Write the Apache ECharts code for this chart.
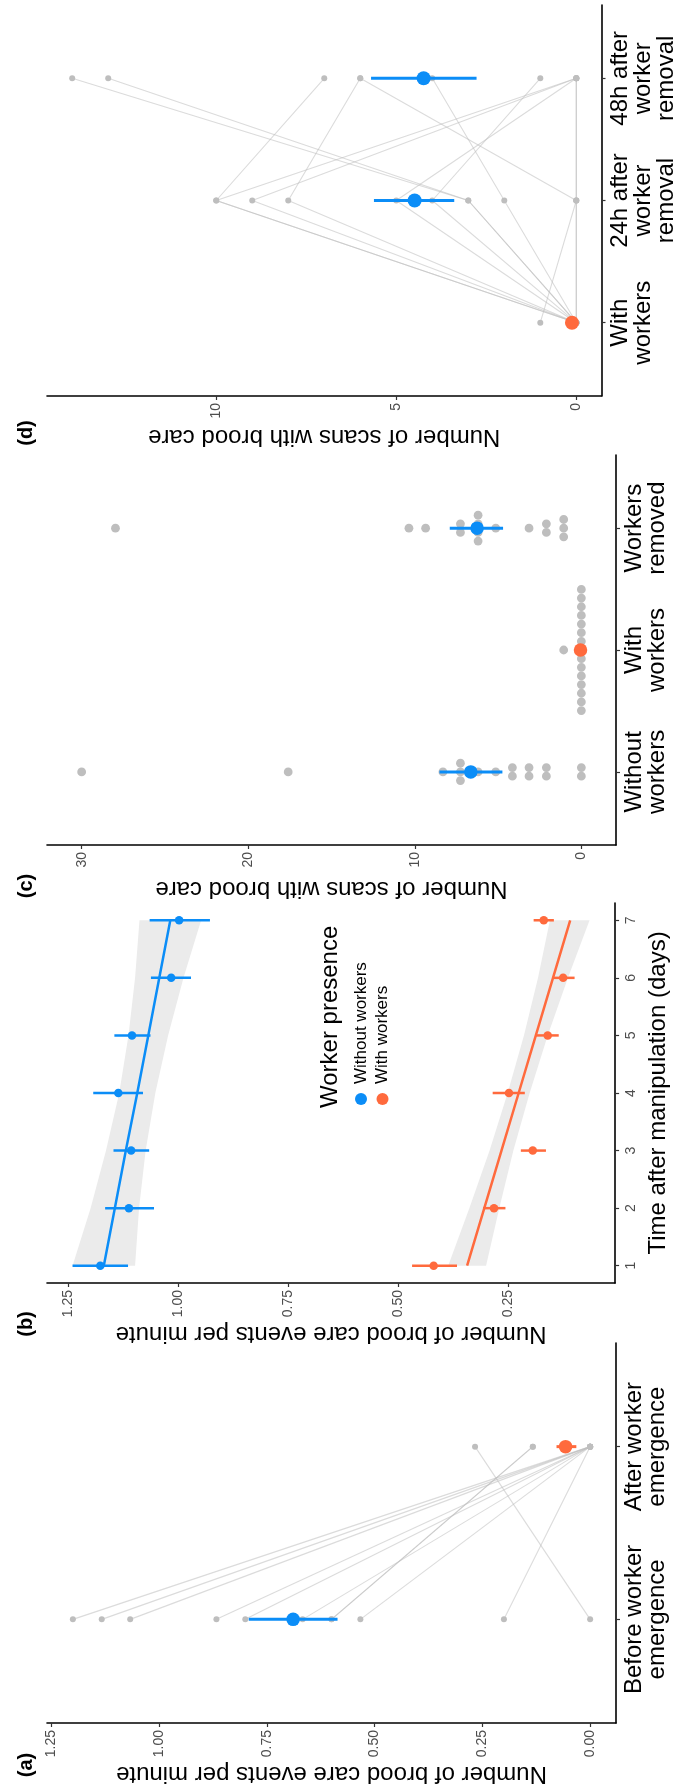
<!DOCTYPE html>
<html><head><meta charset="utf-8">
<script src="https://cdn.jsdelivr.net/npm/echarts@6/dist/echarts.min.js"></script>
<style>html,body{margin:0;padding:0;background:#fff}#c{width:678px;height:1788px}</style>
</head><body><div id="c"></div>
<script>
// ================= DATA =================
// Panel (a)
const aCategories = ['Before worker\nemergence', 'After worker\nemergence'];
const aBefore = [1.200, 1.133, 1.067, 0.867, 0.800, 0.667, 0.600, 0.600, 0.533, 0.200, 0.000];
const aAfter  = [0.000, 0.000, 0.000, 0.000, 0.000, 0.000, 0.133, 0.133, 0.000, 0.000, 0.267];
const aMean = [0.689, 0.057];
const aLow  = [0.586, 0.032];
const aHigh = [0.792, 0.078];
const aTicks = [0, 0.25, 0.5, 0.75, 1.0, 1.25];

// Panel (b)
const bDays = [1, 2, 3, 4, 5, 6, 7];
const bWithoutMean = [1.177, 1.112, 1.107, 1.136, 1.105, 1.016, 0.998];
const bWithoutLow  = [1.114, 1.055, 1.066, 1.080, 1.063, 0.971, 0.928];
const bWithoutHigh = [1.240, 1.166, 1.147, 1.193, 1.145, 1.062, 1.065];
const bWithoutFit     = [1.169, 1.144, 1.119, 1.093, 1.068, 1.043, 1.018];
const bWithoutFitLow  = [1.098, 1.089, 1.074, 1.052, 1.023, 0.988, 0.948];
const bWithoutFitHigh = [1.240, 1.199, 1.164, 1.134, 1.113, 1.098, 1.088];
const bWithMean = [0.420, 0.283, 0.195, 0.249, 0.161, 0.126, 0.170];
const bWithLow  = [0.367, 0.257, 0.165, 0.213, 0.136, 0.100, 0.147];
const bWithHigh = [0.469, 0.308, 0.222, 0.286, 0.188, 0.149, 0.193];
const bWithFit     = [0.344, 0.305, 0.266, 0.227, 0.188, 0.149, 0.110];
const bWithFitLow  = [0.301, 0.271, 0.239, 0.202, 0.161, 0.115, 0.066];
const bWithFitHigh = [0.387, 0.339, 0.293, 0.252, 0.215, 0.183, 0.156];
const bTicks = [0.25, 0.5, 0.75, 1.0, 1.25];
const bLegendTitle = 'Worker presence';
const bGroups = ['Without workers', 'With workers'];

// Panel (c)
const cCategories = ['Without\nworkers', 'With\nworkers', 'Workers\nremoved'];
const cWithout = [30.0, 17.6, 8.31, 7.26, 7.26, 7.26, 6.2, 5.14, 4.14, 4.14, 3.14, 3.14, 2.1, 2.1, 0, 0];
const cWith    = [1.06, 0, 0, 0, 0, 0, 0, 0, 0, 0, 0, 0, 0, 0, 0, 0];
const cRemoved = [27.97, 10.35, 9.35, 7.26, 7.26, 6.2, 6.2, 6.2, 6.2, 5.14, 3.14, 2.1, 2.1, 1.06, 1.06, 1.06];
const cMean = [6.64, 0.05, 6.26];
const cLow  = [4.74, null, 4.70];
const cHigh = [8.52, null, 7.90];
const cTicks = [0, 10, 20, 30];

// Panel (d)
const dCategories = ['With\nworkers', '24h after\nworker\nremoval', '48h after\nworker\nremoval'];
const dWith = [0, 0, 0, 0, 0, 0, 0, 0, 0, 1, 0, 0];
const d24h  = [10, 10, 9, 8, 5, 4, 3, 3, 2, 0, 0, 0];
const d48h  = [7, 0, 0, 6, 0, 1, 14, 13, 4, 6, 0, 0];
const dMean = [0.12, 4.49, 4.24];
const dLow  = [null, 3.39, 2.77];
const dHigh = [null, 5.62, 5.70];
const dTicks = [0, 5, 10];

const titleEvents = 'Number of brood care events per minute';
const titleScans = 'Number of scans with brood care';
const titleDays = 'Time after manipulation (days)';
const panelTags = ['(a)', '(b)', '(c)', '(d)'];

// ================= STYLE =================
const FONT = '"Liberation Sans", Arial, Helvetica, sans-serif';
const BLUE = '#0B8DF7', ORANGE = '#FF6A3D', GRAY = '#BEBEBE';
const LINE = 'rgba(190,190,190,0.55)', RIBBON = '#EBEBEB';

const chart = echarts.init(document.getElementById('c'), null, {renderer: 'canvas'});

function valueAxis(gi, min, max, ticks, digits, name, nameGap) {
  return {
    type: 'value', gridIndex: gi, min: min, max: max, inverse: true, position: 'bottom',
    splitLine: {show: false},
    axisLine: {show: true, onZero: false, lineStyle: {color: '#000', width: 1.6}},
    axisTick: {show: true, length: 4, customValues: ticks, lineStyle: {color: '#333', width: 1.2}},
    axisLabel: {show: true, rotate: 90, margin: 7, color: '#4d4d4d', fontSize: 14, fontFamily: FONT,
      customValues: ticks, formatter: v => Number(v).toFixed(digits)},
    name: name, nameLocation: 'middle', nameGap: nameGap, nameRotate: 180,
    nameTextStyle: {fontSize: 24, color: '#000', fontFamily: FONT}
  };
}
function catAxis(gi, min, max, labels, opts) {
  const pos = labels.map((_, i) => i + 1);
  const ax = {
    type: 'value', gridIndex: gi, min: min, max: max, position: 'right',
    splitLine: {show: false},
    axisLine: {show: true, onZero: false, lineStyle: {color: '#000', width: 1.6}},
    axisTick: {show: true, length: 4, customValues: pos, lineStyle: {color: '#333', width: 1.2}},
    axisLabel: {show: true, rotate: 90, margin: opts.margin, customValues: pos,
      formatter: v => labels[Math.round(v) - 1], fontSize: opts.fontSize, color: opts.color,
      lineHeight: opts.lineHeight, fontFamily: FONT}
  };
  if (opts.name) {
    ax.name = opts.name; ax.nameLocation = 'middle'; ax.nameGap = opts.nameGap;
    ax.nameTextStyle = {fontSize: 24, color: '#000', fontFamily: FONT};
  }
  return ax;
}
const catOpts = {margin: 7, fontSize: 24, color: '#000', lineHeight: 23};

const grids = [
  {left: 47, right: 62, top: 1343, height: 380},
  {left: 47, right: 62, top: 903, height: 380},
  {left: 47, right: 62, top: 455, height: 390},
  {left: 47, right: 62, top: 5, height: 391}
];
const xAxes = [
  valueAxis(0, -0.06, 1.26, aTicks, 2, titleEvents, 33),
  valueAxis(1, 0.008, 1.298, bTicks, 2, titleEvents, 33),
  valueAxis(2, -2.08, 32.08, cTicks, 0, titleScans, 32),
  valueAxis(3, -0.7, 14.7, dTicks, 0, titleScans, 29)
];
const dayLabels = bDays.map(String);
const yAxes = [
  catAxis(0, 0.4, 2.6, aCategories, catOpts),
  catAxis(1, 0.7, 7.3, dayLabels, {margin: 9, fontSize: 14, color: '#4d4d4d', lineHeight: 14, name: titleDays, nameGap: 29}),
  catAxis(2, 0.4, 3.6, cCategories, catOpts),
  catAxis(3, 0.4, 3.6, dCategories, catOpts)
];

const series = [];
function pathLine(gi, pts) {
  return {type: 'line', xAxisIndex: gi, yAxisIndex: gi, data: pts, symbol: 'none',
    lineStyle: {color: LINE, width: 1.1}, silent: true, z: 1};
}
function points(gi, data, size, color, z) {
  return {type: 'scatter', xAxisIndex: gi, yAxisIndex: gi, data: data, symbolSize: size,
    itemStyle: {color: color, opacity: 1}, silent: true, z: z};
}
function errorBars(gi, lows, highs, cats, colors, width) {
  const data = [];
  lows.forEach((l, i) => { if (l != null) data.push({value: [l, highs[i], cats[i]], c: colors[i]}); });
  return {type: 'custom', xAxisIndex: gi, yAxisIndex: gi, data: data, encode: {x: [0, 1], y: 2},
    silent: true, z: 3,
    renderItem: (p, api) => {
      const a = api.coord([api.value(0), api.value(2)]);
      const b = api.coord([api.value(1), api.value(2)]);
      return {type: 'line', shape: {x1: a[0], y1: a[1], x2: b[0], y2: b[1]},
        style: {stroke: data[p.dataIndex].c, lineWidth: width, lineCap: 'butt'}};
    }};
}
function means(gi, vals, cats, colors, size) {
  return {type: 'scatter', xAxisIndex: gi, yAxisIndex: gi, silent: true, z: 4, symbolSize: size,
    data: vals.map((v, i) => ({value: [v, cats[i]], itemStyle: {color: colors[i], opacity: 1}}))};
}

// ---- panel (a)
aBefore.forEach((v, i) => series.push(pathLine(0, [[v, 1], [aAfter[i], 2]])));
series.push(points(0, aBefore.map(v => [v, 1]).concat(aAfter.map(v => [v, 2])), 6, GRAY, 2));
series.push(errorBars(0, aLow, aHigh, [1, 2], [BLUE, ORANGE], 3));
series.push(means(0, aMean, [1, 2], [BLUE, ORANGE], 13.5));

// ---- panel (b)
function ribbon(gi, days, lo, hi) {
  return {type: 'custom', xAxisIndex: gi, yAxisIndex: gi, silent: true, z: 0,
    data: days.map((d, i) => [lo[i], hi[i], d]), encode: {x: [0, 1], y: 2},
    renderItem: (p, api) => {
      if (p.dataIndex !== 0) return null;
      const pts = [];
      for (let i = 0; i < days.length; i++) pts.push(api.coord([hi[i], days[i]]));
      for (let i = days.length - 1; i >= 0; i--) pts.push(api.coord([lo[i], days[i]]));
      return {type: 'polygon', shape: {points: pts}, style: {fill: RIBBON}};
    }};
}
series.push(ribbon(1, bDays, bWithoutFitLow, bWithoutFitHigh));
series.push(ribbon(1, bDays, bWithFitLow, bWithFitHigh));
[[bWithoutFit, BLUE], [bWithFit, ORANGE]].forEach(([fit, col]) => {
  series.push({type: 'line', xAxisIndex: 1, yAxisIndex: 1, symbol: 'none', silent: true, z: 2,
    data: fit.map((v, i) => [v, bDays[i]]), lineStyle: {color: col, width: 2.5}});
});
series.push(errorBars(1, bWithoutLow, bWithoutHigh, bDays, bDays.map(() => BLUE), 2.5));
series.push(errorBars(1, bWithLow, bWithHigh, bDays, bDays.map(() => ORANGE), 2.5));
series.push(points(1, bWithoutMean.map((v, i) => [v, bDays[i]]), 8.5, BLUE, 4));
series.push(points(1, bWithMean.map((v, i) => [v, bDays[i]]), 8.5, ORANGE, 4));

// ---- panel (c) : centered beeswarm (equal values stacked symmetrically)
function slots(values) {
  const counts = {}, seen = {};
  values.forEach(v => counts[v] = (counts[v] || 0) + 1);
  return values.map(v => { const k = seen[v] || 0; seen[v] = k + 1; return k - (counts[v] - 1) / 2; });
}
const cGroups = [cWithout, cWith, cRemoved];
const cData = [];
cGroups.forEach((g, gi) => { const s = slots(g); g.forEach((v, i) => cData.push([v, gi + 1, s[i]])); });
series.push({type: 'custom', xAxisIndex: 2, yAxisIndex: 2, silent: true, z: 2, data: cData,
  encode: {x: 0, y: 1},
  renderItem: (p, api) => {
    const c = api.coord([api.value(0), api.value(1)]);
    return {type: 'circle', shape: {cx: c[0], cy: c[1] + api.value(2) * 8.65, r: 4.4}, style: {fill: GRAY}};
  }});
series.push(errorBars(2, cLow, cHigh, [1, 2, 3], [BLUE, ORANGE, BLUE], 3));
series.push(means(2, cMean, [1, 2, 3], [BLUE, ORANGE, BLUE], 13.5));

// ---- panel (d)
dWith.forEach((v, i) => series.push(pathLine(3, [[v, 1], [d24h[i], 2], [d48h[i], 3]])));
series.push(points(3, dWith.map(v => [v, 1]).concat(d24h.map(v => [v, 2]), d48h.map(v => [v, 3])), 6, GRAY, 2));
series.push(errorBars(3, dLow, dHigh, [1, 2, 3], [ORANGE, BLUE, BLUE], 3));
series.push(means(3, dMean, [1, 2, 3], [ORANGE, BLUE, BLUE], 14));

// ---- graphics: panel tags and legend of panel (b)
const R = Math.PI / 2;
function rtext(x, y, text, size, weight, align) {
  return {type: 'text', x: x, y: y, rotation: R, silent: true,
    style: {text: text, fontSize: size, fontWeight: weight, fontFamily: FONT, fill: '#000',
      align: align, verticalAlign: 'middle', textAlign: align, textVerticalAlign: 'middle'}};
}
const tagY = [1765, 1324, 886, 433];
const graphic = panelTags.map((t, i) => rtext(26, tagY[i], t, 20, 'bold', 'center'));
graphic.push(rtext(330, 1108, bLegendTitle, 24, 'normal', 'left'));
const legendColors = [BLUE, ORANGE];
bGroups.forEach((g, i) => {
  const x = 361 + i * 21.5;
  graphic.push({type: 'circle', shape: {cx: x, cy: 1099, r: 6}, style: {fill: legendColors[i]}, silent: true});
  graphic.push(rtext(x, 1084, g, 17, 'normal', 'left'));
});

chart.setOption({
  animation: false,
  backgroundColor: '#fff',
  grid: grids,
  xAxis: xAxes,
  yAxis: yAxes,
  series: series,
  graphic: graphic
});
</script></body></html>
